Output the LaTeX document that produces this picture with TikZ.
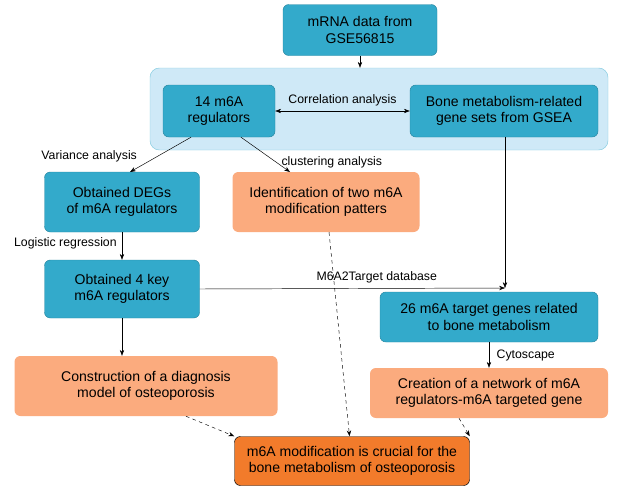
\documentclass[tikz,border=0pt]{standalone}
\usepackage{fontspec}
\setmainfont{Liberation Sans}
\usetikzlibrary{positioning,arrows.meta}
\definecolor{teal1}{HTML}{33AACB}
\definecolor{peach}{HTML}{FBAB7E}
\definecolor{deeporange}{HTML}{F27B2B}
\definecolor{paleblue}{HTML}{CFE9F7}
\begin{document}
\begin{tikzpicture}[x=0.3mm,y=-0.3mm,>={Stealth[length=5pt]},
  stage/.style={rounded corners=5pt,fill=teal1,draw=teal1!80!black,align=center,font=\fontsize{12}{14}\selectfont},
  side/.style={rounded corners=5pt,fill=peach,draw=none,align=center,font=\fontsize{12}{14}\selectfont},
  lbl/.style={font=\fontsize{10.5}{12}\selectfont}]
	\useasboundingbox (0,0) rectangle (642,489);

	\node[rounded corners=8pt,fill=paleblue,draw=teal1!60,minimum width=458*0.3mm,minimum height=82*0.3mm] (box) at (379,109) {};
	\node[stage,minimum width=154*0.3mm,minimum height=51*0.3mm] (mrna) at (360,30) {mRNA data from\\GSE56815};
	\node[stage,minimum width=112*0.3mm,minimum height=52*0.3mm] (reg) at (219,111) {14 m6A\\regulators};
	\node[stage,minimum width=188*0.3mm,minimum height=52*0.3mm] (bone) at (504,111) {Bone metabolism-related\\gene sets from GSEA};
	\node[stage,minimum width=155*0.3mm,minimum height=60*0.3mm] (degs) at (122,202) {Obtained DEGs\\of m6A regulators};
	\node[side,minimum width=187*0.3mm,minimum height=60*0.3mm] (ident) at (326,202) {Identification of two m6A\\modification patters};
	\node[stage,minimum width=155*0.3mm,minimum height=58*0.3mm] (key) at (122,289) {Obtained 4 key\\m6A regulators};
	\node[stage,minimum width=218*0.3mm,minimum height=50*0.3mm] (target) at (489,317) {26 m6A target genes related\\to bone metabolism};
	\node[side,minimum width=263*0.3mm,minimum height=60*0.3mm] (model) at (146,386) {Construction of a diagnosis\\model of osteoporosis};
	\node[side,minimum width=238*0.3mm,minimum height=50*0.3mm] (network) at (489,393) {Creation of a network of m6A\\regulators-m6A targeted gene};
	\node[rounded corners=5pt,fill=deeporange,draw=black,align=center,font=\fontsize{12}{14}\selectfont,minimum width=235*0.3mm,minimum height=49*0.3mm] (final) at (352,461) {m6A modification is crucial for the\\bone metabolism of osteoporosis};

	\coordinate (merge) at (505,288);
	\draw[->] (mrna) -- (box.north -| mrna);
	\draw[<->] (reg) -- node[lbl,above=1pt] {Correlation analysis} (bone);
	\draw[->] (reg.south) ++(-28,0) -- node[lbl,pos=0.55,left=14pt] {Variance analysis} (130,172);
	\draw[->] (reg.south) ++(22,0) -- node[lbl,pos=0.72,right=1pt] {clustering analysis} (290,172);
	\draw[->] (bone.south) ++(1,0) -- (merge);
	\draw[->] (degs) -- node[lbl,pos=0.4,left=1pt] {Logistic regression} (key);
	\draw[->] (key.east) -- node[lbl,above=1pt,pos=0.58] {M6A2Target database} (merge);
	\draw[->] (key.south) -- (key.south |- model.north);
	\draw[->] (target) -- node[lbl,right=3pt] {Cytoscape} (network);
	\draw[->,dashed] (model.south) ++(40,0) -- (final.north west);
	\draw[->,dashed] (ident) -- (final);
	\draw[->,dashed] (network.south) ++(-30,0) -- (final.north east);
\end{tikzpicture}
\end{document}
